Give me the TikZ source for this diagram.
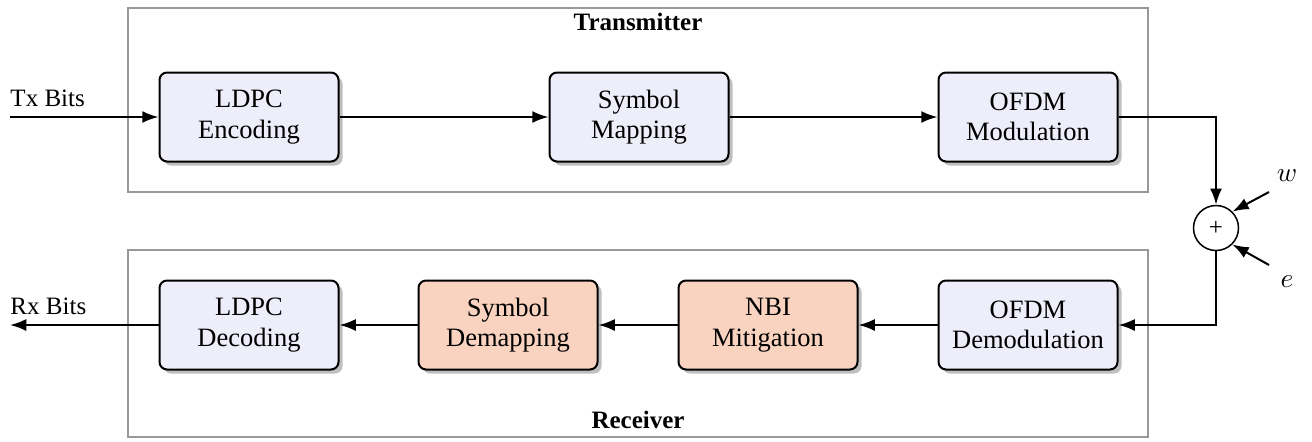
\documentclass[tikz,border=0pt]{standalone}
\usepackage{fontspec}
\setmainfont{Liberation Serif}
\usetikzlibrary{arrows.meta,shadows}
\definecolor{boxblue}{RGB}{238,238,251}
\definecolor{boxsalmon}{RGB}{249,211,192}
\begin{document}
\begin{tikzpicture}[x=0.4pt,y=-0.4pt,
  blk/.style={draw=black,line width=0.8pt,rounded corners=3pt,minimum width=71.6pt,minimum height=35.6pt,align=center,font=\fontsize{10.6}{12.2}\selectfont,drop shadow={shadow xshift=1.6pt,shadow yshift=-1.6pt,fill=black!25,opacity=1}},
  blue/.style={blk,fill=boxblue},
  salmon/.style={blk,fill=boxsalmon},
  frame/.style={draw=black!40,line width=0.5pt},
  conn/.style={line width=0.8pt,-{Latex[length=6.5pt,width=4.8pt]}},
  lbl/.style={font=\fontsize{10}{12}\selectfont}
]
\useasboundingbox (0,0) rectangle (1312,441);
% frames
\draw[frame] (128,8) rectangle (1148,192);
\draw[frame] (128,250) rectangle (1148,437);
\node[lbl,font=\fontsize{10}{12}\selectfont\bfseries] (ttx) at (638,22) {Transmitter};
\node[lbl,font=\fontsize{10}{12}\selectfont\bfseries] (trx) at (638,420) {Receiver};
% top row
\node[blue] (enc) at (249,117) {LDPC\\Encoding};
\node[blue] (map) at (639,117) {Symbol\\Mapping};
\node[blue] (mod) at (1028,117) {OFDM\\Modulation};
% bottom row
\node[blue] (dec) at (249,325) {LDPC\\Decoding};
\node[salmon] (dmap) at (508,325) {Symbol\\Demapping};
\node[salmon] (nbi) at (768,325) {NBI\\Mitigation};
\node[blue] (dem) at (1028,325) {OFDM\\Demodulation};
% adder
\node[draw,circle,line width=0.6pt,minimum size=18pt,inner sep=0pt,font=\fontsize{10}{12}\selectfont] (sum) at (1216,228) {+};
% inputs / outputs
\coordinate (txin) at (10,117);
\coordinate (rxout) at (10,325);
\node[lbl,anchor=base west,inner sep=0pt] (txl) at (10,106) {Tx Bits};
\node[lbl,anchor=base west,inner sep=0pt] (rxl) at (10,314) {Rx Bits};
\coordinate (win) at (1269,192);
\coordinate (ein) at (1269,265);
\node[font=\fontsize{11}{13}\selectfont] (wl) at (1287,176) {$w$};
\node[font=\fontsize{11}{13}\selectfont] (el) at (1287,282) {$e$};
% connectors
\draw[conn] (txin) -- (enc.west);
\draw[conn] (enc) -- (map);
\draw[conn] (map) -- (mod);
\draw[conn] (mod.east) -| (sum.north);
\draw[conn] (sum.south) |- (dem.east);
\draw[conn] (dem) -- (nbi);
\draw[conn] (nbi) -- (dmap);
\draw[conn] (dmap) -- (dec);
\draw[conn] (dec.west) -- (rxout);
\draw[conn] (win) -- (sum.north east);
\draw[conn] (ein) -- (sum.south east);
\end{tikzpicture}
\end{document}
